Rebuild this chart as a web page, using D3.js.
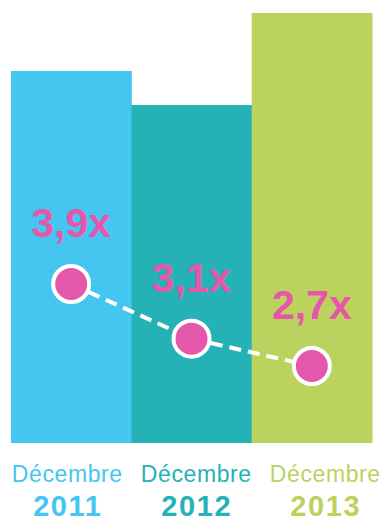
<!DOCTYPE html>
<html>
<head>
<meta charset="utf-8">
<script src="https://cdn.jsdelivr.net/npm/d3@7"></script>
<style>
  body { margin: 0; background: #fff; }
  svg text { font-family: "Liberation Sans", Arial, sans-serif; }
</style>
</head>
<body>
<div class="chart"></div>
<script>
var w = 383;
var h = 522;

var months = ["Décembre", "Décembre", "Décembre"];
var years = ["2011", "2012", "2013"];
var barValues = [372, 338, 430];
var ratios = [3.9, 3.1, 2.7];
var ratioLabels = ["3,9x", "3,1x", "2,7x"];
var colors = ["#45c6f0", "#25b2b7", "#bcd25e"];

var xScale = d3.scaleBand()
    .domain(d3.range(years.length))
    .range([11, 372])
    .paddingInner(0);

// labels under the bars are spaced a little wider than the bars
var labelScale = d3.scaleBand()
    .domain(d3.range(years.length))
    .range([2.5, 389.5]);

var yScale = d3.scaleLinear()
    .domain([0, d3.max(barValues)])
    .range([443, 13]);

var rScale = d3.scaleLinear()
    .domain([2.7, 3.9])
    .range([366, 284]);

var svg = d3.select(".chart")
    .append("svg")
    .attr("width", w)
    .attr("height", h);

svg.selectAll("rect")
    .data(barValues)
    .enter()
    .append("rect")
    .attr("x", function (d, i) { return xScale(i); })
    .attr("y", function (d) { return yScale(d); })
    .attr("width", xScale.bandwidth() + 0.5)
    .attr("height", function (d) { return yScale(0) - yScale(d); })
    .attr("fill", function (d, i) { return colors[i]; });

var cx = function (d, i) { return xScale(i) + xScale.bandwidth() / 2; };

var line = d3.line()
    .x(function (d, i) { return cx(d, i); })
    .y(function (d) { return rScale(d); });

svg.append("path")
    .datum(ratios)
    .attr("d", line)
    .attr("fill", "none")
    .attr("stroke", "#fff")
    .attr("stroke-width", 4)
    .attr("stroke-dasharray", "12,7");

svg.selectAll("circle")
    .data(ratios)
    .enter()
    .append("circle")
    .attr("cx", cx)
    .attr("cy", function (d) { return rScale(d); })
    .attr("r", 18)
    .attr("fill", "#e457aa")
    .attr("stroke", "#fff")
    .attr("stroke-width", 4);

svg.selectAll("text.ratio")
    .data(ratios)
    .enter()
    .append("text")
    .attr("class", "ratio")
    .text(function (d, i) { return ratioLabels[i]; })
    .attr("text-anchor", "middle")
    .attr("x", cx)
    .attr("y", function (d) { return rScale(d) - 47; })
    .attr("font-weight", "bold")
    .attr("font-size", "41px")
    .attr("fill", "#e457aa");

svg.selectAll("text.month")
    .data(months)
    .enter()
    .append("text")
    .attr("class", "month")
    .text(function (d) { return d; })
    .attr("text-anchor", "middle")
    .attr("x", function (d, i) { return labelScale(i) + labelScale.bandwidth() / 2 + 0.3; })
    .attr("y", 482)
    .attr("font-size", "23px")
    .attr("letter-spacing", "0.6px")
    .attr("fill", function (d, i) { return colors[i]; });

svg.selectAll("text.year")
    .data(years)
    .enter()
    .append("text")
    .attr("class", "year")
    .text(function (d) { return d; })
    .attr("text-anchor", "middle")
    .attr("x", function (d, i) { return labelScale(i) + labelScale.bandwidth() / 2 + 0.8; })
    .attr("y", 515.5)
    .attr("font-weight", "bold")
    .attr("font-size", "29px")
    .attr("letter-spacing", "1.6px")
    .attr("fill", function (d, i) { return colors[i]; });
</script>
</body>
</html>
